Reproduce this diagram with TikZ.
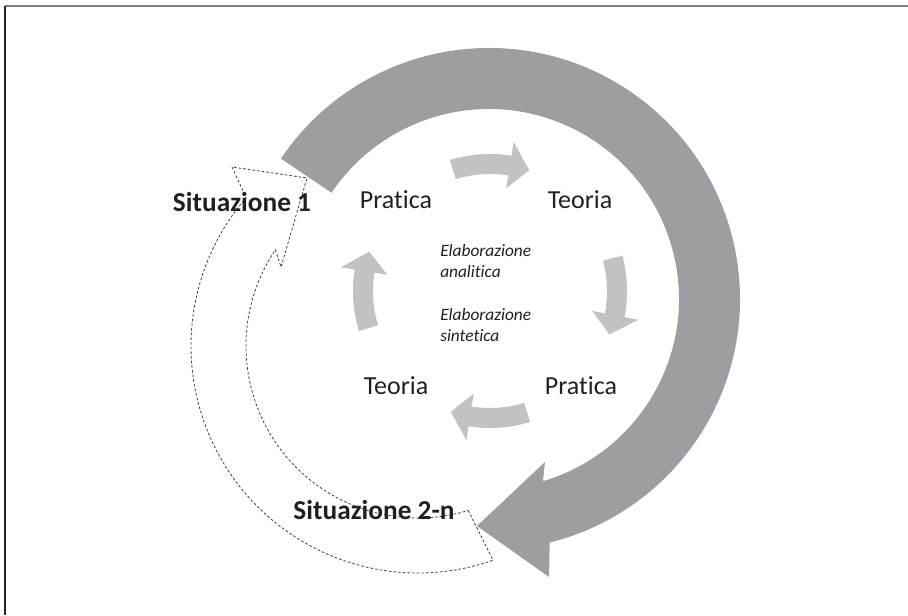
\documentclass[tikz,border=0pt]{standalone}
\usepackage{fontspec}
\setmainfont{Carlito}[Ligatures=NoCommon]
\usetikzlibrary{calc}
\definecolor{bigarr}{HTML}{9D9EA2}
\definecolor{smallarr}{HTML}{C1C2C4}
\definecolor{txt}{HTML}{231F20}
\newcommand\cyclearrow[1]{%
  \fill[smallarrow] ($(C)+({#1}:137)$) arc[start angle={#1}, end angle={#1-26}, radius=137]
    -- ($(C)+({#1-26}:151)$) -- ($(C)+({#1-35}:127)$) -- ($(C)+({#1-26}:104)$)
    -- ($(C)+({#1-26}:117)$) arc[start angle={#1-26}, end angle={#1}, radius=117] -- cycle;}
\begin{document}
\begin{tikzpicture}[x=0.75pt,y=0.75pt,
  bigarrow/.style={fill=bigarr},
  smallarrow/.style={fill=smallarr},
  dasharrow/.style={draw=black!75, line width=0.6pt, dash pattern=on 2pt off 1.5pt, line join=miter},
  lbl/.style={text=txt, font=\fontsize{19.5}{22}\selectfont, inner sep=0pt},
  sit/.style={text=txt, font=\bfseries\fontsize{20.5}{23}\selectfont, inner sep=0pt},
  elab/.style={text=txt, font=\itshape\fontsize{13}{15.75}\selectfont, align=left, inner sep=0pt, anchor=west}]
\useasboundingbox (0,0) rectangle (908,615);
% frame
\coordinate (fTL) at (5,609);
\coordinate (fTR) at (908,609);
\coordinate (fBL) at (5,0);
\draw[black!50, line width=1.4pt] (fTL) -- (fTR);
\draw[black!85, line width=1.1pt] (fTL) -- (fBL);
% centres
\coordinate (O) at (489,316);
\coordinate (O2) at (418,269);
\coordinate (C) at (490,324);
% dashed return arrow
\draw[dasharrow] ($(O2)+(-73:172)$) -- ($(O2)+(-70.7:227)$)
  arc[start angle=-70.7, end angle=-220.8, radius=227]
  -- (232,448) -- (307,437) -- (281,348)
  -- ($(O2)+(146:172)$) arc[start angle=146, end angle=287, radius=172] -- cycle;
% big arrow
\fill[bigarrow] ($(O)+(146:251)$) arc[start angle=146, end angle=-76, radius=251]
  -- (549,38) -- (477,89) -- (545,153)
  -- ($(O)+(-73.5:190)$) arc[start angle=-73.5, end angle=146, radius=190] -- cycle;
% small cycle arrows
\cyclearrow{107}
\cyclearrow{15}
\cyclearrow{-73}
\cyclearrow{197}
% labels
\node[lbl] (p1) at (396,415) {Pratica};
\node[lbl] (t1) at (580,415) {Teoria};
\node[lbl] (t2) at (396,229) {Teoria};
\node[lbl] (p2) at (581,229) {Pratica};
\node[sit] (s1) at (242,413) {Situazione 1};
\node[sit] (s2) at (374,105) {Situazione 2-n};
\node[elab] (ea) at (440,353.5) {Elaborazione\\analitica};
\node[elab] (es) at (440,290) {Elaborazione\\sintetica};
\end{tikzpicture}
\end{document}
